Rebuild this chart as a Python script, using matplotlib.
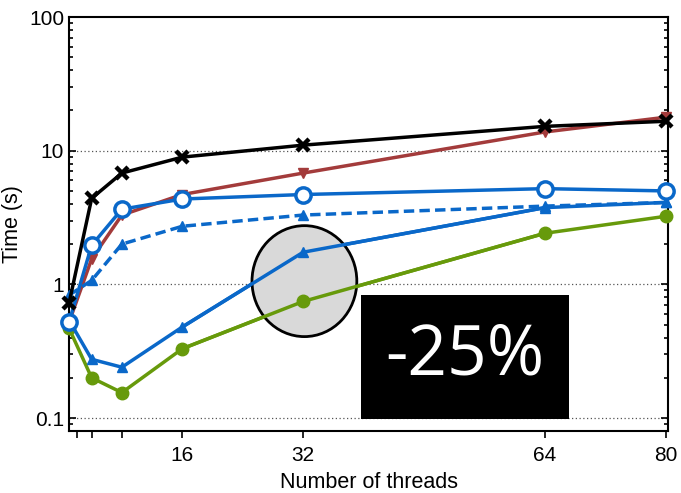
import matplotlib
matplotlib.use("Agg")
import matplotlib.pyplot as plt
from matplotlib.patches import Ellipse, Rectangle
from matplotlib.ticker import LogLocator, NullFormatter

threads = [1, 4, 8, 16, 32, 64, 80]
black_x = [0.72, 4.4, 6.8, 8.95, 11.0, 15.2, 16.6]
red_tri = [0.52, 1.55, 3.3, 4.7, 6.8, 13.8, 17.8]
blue_circ = [0.52, 1.96, 3.65, 4.35, 4.7, 5.2, 5.0]
blue_dash = [0.83, 1.07, 2.0, 2.72, 3.3, 3.85, 4.1]
blue_solid = [0.54, 0.275, 0.24, 0.48, 1.74, 3.75, 4.1]
green = [0.47, 0.20, 0.155, 0.33, 0.745, 2.41, 3.23]

major_xticks = [16, 32, 64, 80]
minor_xticks = [2, 4, 8]
yticks = [0.1, 1, 10, 100]
ytick_labels = ["0.1", "1", "10", "100"]

plt.rcParams['font.family'] = ['Liberation Sans', 'DejaVu Sans']

fig = plt.figure(figsize=(6.81, 4.93), dpi=100)
ax = fig.add_axes([69/681, 1 - 431/493, 599/681, 414/493])

lw = 2.5
red = '#A33B3B'
blue = '#0A68C9'
grn = '#679A0B'

ax.plot(threads, green, '-', color=grn, lw=lw, marker='o', ms=9, zorder=3, clip_on=False)
ax.plot(threads, red_tri, '-', color=red, lw=lw, marker='v', ms=7, zorder=3, clip_on=False)
ax.plot(threads, blue_solid, '-', color=blue, lw=lw, marker='^', ms=7, zorder=4, clip_on=False)
ax.plot(threads, blue_dash, '--', color=blue, lw=lw, marker='^', ms=7, zorder=4,
        dashes=(3, 1.5), clip_on=False)
ax.plot(threads, blue_circ, '-', color=blue, lw=lw, marker='o', ms=11, mfc='white',
        mew=2.5, zorder=5, clip_on=False)
ax.plot(threads, black_x, '-', color='black', lw=lw, marker='x', ms=8, mew=3.2, zorder=6,
        clip_on=False)

ax.set_yscale('log')
ax.set_ylim(0.08, 100)
ax.set_xlim(1, 80.3)

ax.set_yticks(yticks)
ax.set_yticklabels(ytick_labels)
ax.yaxis.set_minor_locator(LogLocator(base=10, subs=range(2, 10)))
ax.yaxis.set_minor_formatter(NullFormatter())
ax.tick_params(axis='y', which='both', direction='in', left=True, right=True,
               labelsize=15, width=1.2)
ax.tick_params(axis='y', which='major', length=5)
ax.tick_params(axis='y', which='minor', length=3)

ax.set_xticks(major_xticks)
ax.set_xticks(minor_xticks, minor=True)
ax.tick_params(axis='x', which='both', direction='out', length=5, width=1.2,
               labelsize=15, top=False, pad=6)

for v in [0.1, 1, 10]:
    ax.axhline(v, color='#555555', lw=0.9, ls=(0, (1, 2)), zorder=1)

for s in ax.spines.values():
    s.set_linewidth(1.5)

ax.set_xlabel('Number of threads', fontsize=15.5, labelpad=5)
ax.set_ylabel('Time (s)', fontsize=15.5, labelpad=4)

ell = Ellipse((0.393, 0.362), 0.175, 0.268, transform=ax.transAxes,
              facecolor='#d9d9d9', edgecolor='black', lw=2, zorder=7)
ax.add_patch(ell)
ax.plot([16, 32, 64], blue_solid[3:6], '-', color=blue, lw=lw, zorder=8)
ax.plot([32], [blue_solid[4]], marker='^', color=blue, ms=7, zorder=8)
ax.plot([16, 32, 64], green[3:6], '-', color=grn, lw=lw, zorder=8)
ax.plot([32], [green[4]], marker='o', color=grn, ms=9, zorder=8)

rect = Rectangle((0.4875, 0.029), 0.3475, 0.2995, transform=ax.transAxes,
                 facecolor='black', edgecolor='none', zorder=9)
ax.add_patch(rect)
ax.text(0.661, 0.18, '-25%', transform=ax.transAxes, color='white',
        fontsize=50, family=['Open Sans', 'DejaVu Sans'], ha='center', va='center',
        zorder=10)

fig.savefig('out.png', dpi=100)
